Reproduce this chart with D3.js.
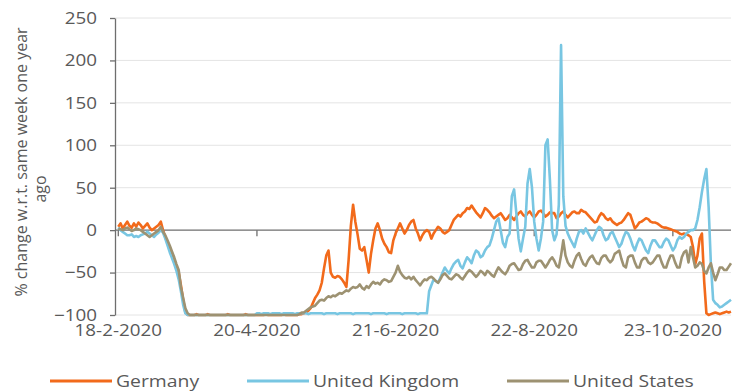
<!DOCTYPE html>
<html>
<head>
<meta charset="utf-8">
<script src="https://cdn.jsdelivr.net/npm/d3@7"></script>
<style>
  body { margin: 0; background: #fff; }
  svg { display: block; }
  text { font-family: "Open Sans", sans-serif; fill: #595959; }
</style>
</head>
<body>
<svg id="chart" width="733" height="392"></svg>
<script>
// Daily series, starting 18 February 2020 (one value per day)
const firstDay = "18-2-2020";
const xTickLabels = ["18-2-2020", "20-4-2020", "21-6-2020", "22-8-2020", "23-10-2020"];
const yTickValues = [-100, -50, 0, 50, 100, 150, 200, 250];
const seriesNames = ["Germany", "United Kingdom", "United States"];

const germany = [
  4, 8, 2, 6, 10, 5, 3, 8, 4, 9, 6, 2, 5, 8, 3, 0, 2, 4, 6, 10,
  0, -8, -15, -22, -30, -37, -43, -50, -65, -82, -97, -100,
  -100, -100, -100, -99, -100, -100, -100, -100, -99, -100, -100, -100,
  -100, -100, -100, -100, -100, -99, -100, -100, -100, -100, -100, -100,
  -100, -99, -100, -100, -100, -100, -100, -100, -100, -100, -99, -100,
  -100, -100, -100, -100, -100, -100, -99, -100, -100, -100, -100, -100,
  -100, -99, -99, -98, -97, -95, -92, -86, -80, -76,
  -71, -62, -45, -30, -24, -50, -55, -56, -54, -55,
  -58, -62, -67, -35, 5, 30, 10, -5, -22, -24,
  -20, -35, -50, -28, -12, 2, 8, 0, -10, -16,
  -20, -26, -27, -12, -4, 2, 8, 2, -4, 0,
  6, 10, 12, 2, -4,
  -12, -6, -2, 0, -2, -10, -4, 0, 4, 2,
  -2, -4, -2, 0, 6, 12, 15, 18, 16, 20,
  22, 26, 25, 29, 25, 21, 18, 15, 20, 26,
  24, 21, 17, 14, 16, 18,
  20, 16, 12, 14, 18, 15, 12, 16, 20, 22,
  18, 16, 20, 22, 18, 15, 18, 22, 23, 20,
  16, 18, 21, 20, 20, 14, 16, 20, 22, 18,
  15, 18, 21, 22, 20, 20, 24, 22, 21, 18,
  15, 12, 9, 10, 16, 20, 18, 14, 12, 14,
  10, 8, 6, 8, 9, 12, 16, 20, 18, 10,
  2, 5, 9, 10, 12, 14, 13, 10, 9, 9,
  8, 6, 4, 3, 3, 2, 1, 0, -1, -2,
  -4, -5, -4, -5, -6, -8, -20, -40, -30, -10,
  -4, -60, -98, -100, -99, -98, -97, -98, -99, -98,
  -97, -96, -97, -96
];

const unitedKingdom = [
  3, 0, -2, -4, -6, -6, -5, -8, -7, -8, -6, -5, -4, -2, -4, -6, -8, -5, -3, 0,
  -3, -10, -18, -26, -33, -40, -48, -58, -72, -88, -98, -100,
  -100, -100, -100, -100, -100, -100, -100, -100, -100, -100,
  -100, -100, -100, -100, -100, -100, -100, -100, -100, -100,
  -100, -100, -100, -100, -100, -100, -100, -100, -100, -100,
  -98, -98, -99, -98, -98, -98, -99, -98, -98, -98,
  -98, -99, -98, -98, -98, -98, -98, -99, -98, -98,
  -98, -98, -98, -99, -98, -98, -98, -98, -98, -98,
  -99, -98, -98, -98, -98, -98, -99, -98, -98, -98,
  -98, -98, -98, -99, -98, -98, -98, -98, -98, -98,
  -98, -99, -98, -98, -98, -98, -98, -98, -99, -98,
  -98, -98, -98, -98, -98, -99, -98, -98, -98, -98,
  -98, -98, -99, -98, -98, -98,
  -98, -72, -65, -58, -60, -62, -56, -50, -44, -48,
  -51, -45, -40, -37, -35, -42, -45, -38, -32, -35,
  -39, -30, -24, -26, -32, -30, -24, -20, -18, -10,
  0, 10, 14, 0, -15, -20, -8, -4, 40, 48,
  20, -10, -25, -10, 4, 55, 72, 50, 10, -10,
  -24, -10, 10, 100, 107, 60, 0, -12, -5, 30,
  218, 40, 5, -4, -10, -15, -20, -10, -2, 0,
  -4, 2, -3, -8, -12, -6, 0, 4, 2, -6,
  -12, -10, -4, -2, -8, -14, -20, -16, -8, -2,
  -4, -10, -18, -24, -16, -10, -12, -18, -24, -27,
  -18, -12, -12, -16, -20, -20, -14, -10, -12, -18,
  -24, -20, -12, -8, -10, -8, -4, -2, 0, 0,
  2, 12, 27, 45, 60, 72, 27, -40, -82, -86,
  -88, -91, -90, -88, -86, -84, -82
];

const unitedStates = [
  2, 1, 0, 2, 3, 1, -1, 0, 2, 1, 0, -2, -4, -6, -8, -6, -4, -2, 0, 4,
  -2, -6, -12, -18, -25, -32, -40, -47, -67, -80, -92, -98, -100,
  -100, -100, -100, -100, -100, -100, -100, -100, -100, -100,
  -100, -100, -100, -100, -100, -100, -100, -100, -100, -100,
  -100, -100, -100, -100, -100, -100, -100, -100, -100, -100,
  -100, -100, -100, -100, -100, -100, -100, -100, -100, -100,
  -100, -100, -100, -100, -100, -100, -100,
  -100, -99, -97, -97, -95, -93, -91, -90, -89, -86,
  -83, -82, -83, -80, -78, -79, -77, -78, -76, -74,
  -75, -73, -71, -72, -69, -67, -68, -67, -64, -68,
  -70, -66, -68, -64, -61, -63, -62, -64, -60, -58,
  -59, -61, -60, -55, -50, -42, -49, -53, -56, -57,
  -55, -58, -55, -59, -62, -65, -61, -58, -59, -56,
  -55, -57, -60, -62, -58, -53, -51, -54, -57, -58,
  -55, -52, -53, -56, -58, -54, -50, -47, -49, -52,
  -55, -52, -48, -50, -53, -48, -50, -53, -55, -49,
  -44, -47, -50, -52, -48, -42, -40, -39, -43, -47,
  -46, -40, -36, -35, -40, -44, -44, -38, -36, -36,
  -40, -44, -40, -35, -32, -36, -42, -44, -30, -12,
  -30, -38, -42, -44, -36, -30, -27, -34, -40, -42,
  -36, -32, -30, -35, -39, -40, -33, -30, -30, -35,
  -38, -35, -28, -26, -24, -34, -42, -44, -32, -30,
  -30, -38, -44, -44, -36, -33, -33, -38, -40, -38,
  -34, -30, -30, -38, -44, -44, -36, -30, -30, -38,
  -44, -44, -32, -26, -24, -38, -20, -32, -44, -42,
  -38, -40, -48, -51, -44, -39, -50, -59, -52, -44,
  -44, -47, -47, -43, -39
];

const colors = ["#f26a1b", "#78c6e2", "#9d9272"];
const textStretch = 1.14; // labels are set slightly wide

const parseDay = d3.utcParse("%d-%m-%Y");
const start = parseDay(firstDay);
const series = [germany, unitedKingdom, unitedStates].map((vals, i) => ({
  name: seriesNames[i],
  color: colors[i],
  points: vals.map((v, k) => ({ date: d3.utcDay.offset(start, k), value: v }))
}));
const lastDate = d3.utcDay.offset(start, germany.length - 1);

const svg = d3.select("#chart");
const x = d3.scaleUtc().domain([start, lastDate]).range([118.3, 731]);
const y = d3.scaleLinear().domain([-100, 250]).range([315, 18]);
const axisX = 115;

// widen a text horizontally while keeping its anchor point fixed
function stretch(sel) {
  sel.each(function () {
    const t = d3.select(this);
    const tx = +t.attr("x") || 0, ty = +t.attr("y") || 0;
    t.attr("x", 0).attr("y", 0)
     .attr("transform", `translate(${tx},${ty}) scale(${textStretch},1)`);
  });
}

// horizontal gridlines
svg.append("g").selectAll("line")
  .data(yTickValues.filter(v => v !== 0))
  .join("line")
  .attr("x1", axisX).attr("x2", 731)
  .attr("y1", d => y(d)).attr("y2", d => y(d))
  .attr("stroke", "#e4e4e4").attr("stroke-width", 1);

// value axis
const yAxis = svg.append("g")
  .attr("transform", `translate(${axisX},0)`)
  .call(d3.axisLeft(y).tickValues(yTickValues).tickSize(5).tickPadding(13).tickSizeOuter(0));
yAxis.select(".domain").attr("stroke", "#6e6e6e").attr("stroke-width", 1.3);
yAxis.selectAll(".tick line").attr("stroke", "#6e6e6e").attr("stroke-width", 1.3);
yAxis.selectAll(".tick text")
  .style("font-size", "16.5px").attr("fill", "#595959")
  .call(stretch);

// zero baseline with date ticks
const tickDates = xTickLabels.map(parseDay);
svg.append("line")
  .attr("x1", axisX).attr("x2", 731)
  .attr("y1", y(0)).attr("y2", y(0))
  .attr("stroke", "#6e6e6e").attr("stroke-width", 1.4);
svg.append("g").selectAll("line")
  .data(tickDates)
  .join("line")
  .attr("x1", d => x(d)).attr("x2", d => x(d))
  .attr("y1", y(0)).attr("y2", y(0) + 6)
  .attr("stroke", "#6e6e6e").attr("stroke-width", 1.3);

// date labels along the bottom
svg.append("g").selectAll("text")
  .data(xTickLabels)
  .join("text")
  .attr("x", d => x(parseDay(d)))
  .attr("y", 336)
  .attr("text-anchor", "middle")
  .style("font-size", "16.5px")
  .text(d => d)
  .call(stretch);

// series lines
const line = d3.line().x(d => x(d.date)).y(d => y(d.value));
svg.append("g").selectAll("path")
  .data(series)
  .join("path")
  .attr("fill", "none")
  .attr("stroke", d => d.color)
  .attr("stroke-width", 2.6)
  .attr("stroke-linejoin", "round")
  .attr("d", d => line(d.points));

// rotated axis title, two lines
const title = svg.append("g").style("font-size", "16px");
title.append("text")
  .attr("transform", "translate(27,162) rotate(-90)")
  .attr("text-anchor", "middle")
  .text("% change w.r.t. same week one year");
title.append("text")
  .attr("transform", "translate(46,189) rotate(-90)")
  .attr("text-anchor", "middle")
  .text("ago");

// legend
const legendX = [50, 247, 507];
const legend = svg.append("g").selectAll("g")
  .data(series)
  .join("g")
  .attr("transform", (d, i) => `translate(${legendX[i]},381)`);
legend.append("line")
  .attr("x1", 0).attr("x2", 62)
  .attr("stroke", d => d.color).attr("stroke-width", 2.8);
legend.append("text")
  .attr("x", 66).attr("y", 6)
  .style("font-size", "17px")
  .text(d => d.name)
  .call(stretch);
</script>
</body>
</html>
